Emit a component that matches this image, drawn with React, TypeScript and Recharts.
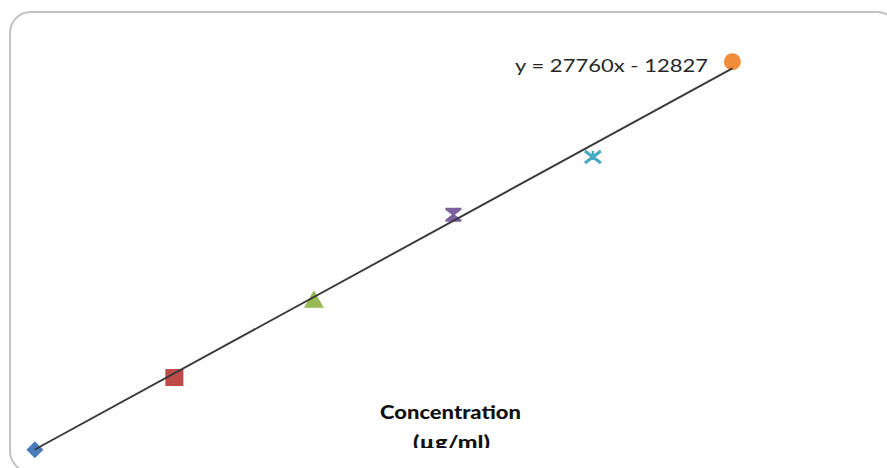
import React from "react";
import { ScatterChart, Scatter, XAxis, YAxis } from "recharts";

// Concentration steps (category index used by the Excel trendline)
const concentrations = [1, 2, 3, 4, 5, 6];
// Peak area responses
const responses = [14860, 41150, 69660, 100430, 121440, 156140];
const seriesColors = ["#4A7EBB", "#BE4B48", "#98B954", "#7D60A0", "#46AAC5", "#F08C3A"];
const markerKinds = ["diamond", "square", "triangle", "hourglass", "star", "circle"];
// Trendline equation as printed on the chart
const SLOPE = 27760;
const INTERCEPT = -12827;
const trendX = [1, 6];
const equationLabel = "y = 27760x - 12827";
const axisTitle = ["Concentration", "(µg/ml)"];

const W = 887;
const H = 468;

const makeShape = (kind: string, color: string) => (props: any) => {
  const { cx, cy } = props;
  if (cx == null || cy == null) return <g />;
  switch (kind) {
    case "diamond":
      return (
        <polygon
          points={`${cx},${cy - 8.5} ${cx + 8.5},${cy} ${cx},${cy + 8.5} ${cx - 8.5},${cy}`}
          fill={color}
        />
      );
    case "square":
      return <rect x={cx - 9} y={cy - 8.5} width={18} height={17} fill={color} />;
    case "triangle":
      return (
        <polygon
          points={`${cx},${cy - 9} ${cx + 10},${cy + 8.5} ${cx - 10},${cy + 8.5}`}
          fill={color}
        />
      );
    case "hourglass":
      return (
        <polygon
          points={`${cx - 8},${cy - 7} ${cx + 8},${cy - 7} ${cx + 8},${cy - 5} ${cx + 1.5},${cy} ${cx + 8},${cy + 5} ${cx + 8},${cy + 7} ${cx - 8},${cy + 7} ${cx - 8},${cy + 5} ${cx - 1.5},${cy} ${cx - 8},${cy - 5}`}
          fill={color}
        />
      );
    case "star":
      return (
        <g stroke={color} strokeWidth={3.2} strokeLinecap="butt">
          <line x1={cx - 8} y1={cy - 6} x2={cx + 8} y2={cy + 6} />
          <line x1={cx + 8} y1={cy - 6} x2={cx - 8} y2={cy + 6} />
          <line x1={cx} y1={cy - 6} x2={cx} y2={cy + 3} strokeWidth={2.5} />
        </g>
      );
    default:
      return <circle cx={cx} cy={cy} r={8.5} fill={color} />;
  }
};

const seriesData = concentrations.map((c, i) => [{ x: c, y: responses[i] }]);
const trendData = trendX.map((x) => ({ x, y: SLOPE * x + INTERCEPT }));

export default function App() {
  return (
    <div
      style={{
        position: "absolute",
        left: 0,
        top: 0,
        width: W,
        height: H,
        overflow: "hidden",
        background: "#ffffff",
      }}
    >
      <div
        style={{
          position: "absolute",
          left: 9,
          top: 11,
          width: 890,
          height: 462,
          border: "2px solid #c2c2c2",
          borderRadius: 22,
          boxSizing: "border-box",
        }}
      />
      <div style={{ position: "absolute", left: 0, top: 0 }}>
        <ScatterChart width={W} height={H} margin={{ top: 0, right: 50, bottom: 0, left: 0 }}>
          <XAxis dataKey="x" type="number" domain={[0.75, 6.75]} allowDataOverflow hide />
          <YAxis dataKey="y" type="number" domain={[8200, 178600]} allowDataOverflow hide />
          {seriesData.map((d, i) => (
            <Scatter
              key={i}
              data={d}
              isAnimationActive={false}
              shape={makeShape(markerKinds[i], seriesColors[i])}
            />
          ))}
          <Scatter
            data={trendData}
            isAnimationActive={false}
            line={{ stroke: "#383838", strokeWidth: 1.9 }}
            shape={() => <g />}
          />
        </ScatterChart>
      </div>
      <svg
        width={W}
        height={H}
        style={{ position: "absolute", left: 0, top: 0, pointerEvents: "none" }}
      >
        <defs>
          <clipPath id="titleClip">
            <rect x={0} y={0} width={W} height={448} />
          </clipPath>
        </defs>
        <text
          x={515}
          y={71.5}
          fontFamily="Lato, 'DejaVu Sans', sans-serif"
          fontSize={17}
          fill="#262626"
          textLength={193}
          lengthAdjust="spacingAndGlyphs"
        >
          {equationLabel}
        </text>
        <g clipPath="url(#titleClip)">
          <text
            x={380}
            y={419}
            fontFamily="Lato, 'DejaVu Sans', sans-serif"
            fontWeight={900}
            fontSize={19}
            fill="#111111"
            textLength={141}
            lengthAdjust="spacingAndGlyphs"
          >
            {axisTitle[0]}
          </text>
          <text
            x={413}
            y={449}
            fontFamily="Lato, 'DejaVu Sans', sans-serif"
            fontWeight={900}
            fontSize={19}
            fill="#111111"
            textLength={77}
            lengthAdjust="spacingAndGlyphs"
          >
            {axisTitle[1]}
          </text>
        </g>
      </svg>
    </div>
  );
}
